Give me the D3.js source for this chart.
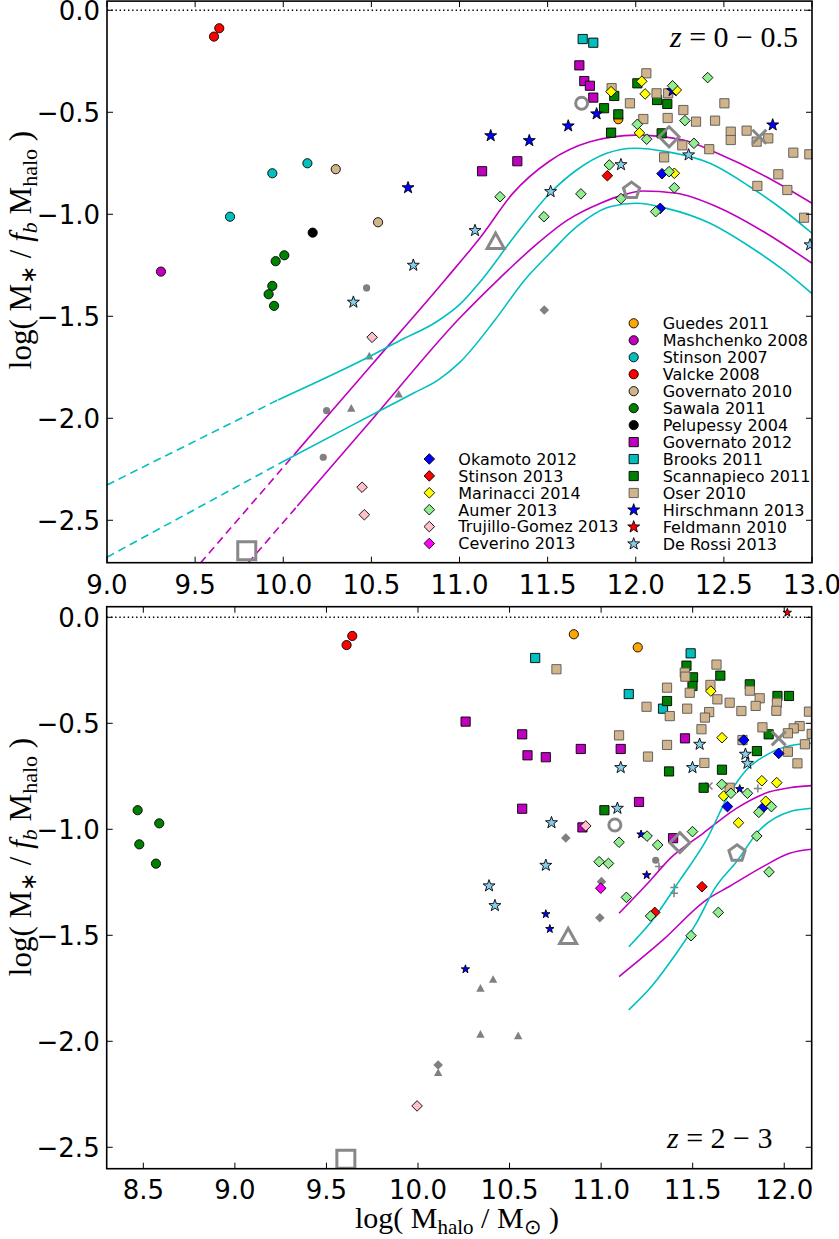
<!DOCTYPE html>
<html><head><meta charset="utf-8">
<script src="https://cdn.jsdelivr.net/npm/d3@7"></script>
<style>body{margin:0;background:#fff}svg{display:block}</style>
</head><body>
<svg id="chart" width="839" height="1239"></svg>
<script>
// ---------------- DATA ----------------
const xTicksTop = [9.0, 9.5, 10.0, 10.5, 11.0, 11.5, 12.0, 12.5, 13.0];
const xTicksBot = [8.5, 9.0, 9.5, 10.0, 10.5, 11.0, 11.5, 12.0];
const yTicks = [0.0, -0.5, -1.0, -1.5, -2.0, -2.5];
const panelLabels = ["z = 0 \u2212 0.5", "z = 2 \u2212 3"];

// z = 0-0.5 panel
const guedes_z0 = [[11.901,-0.534]];
const mashchenko_z0 = [[9.306,-1.281]];
const stinson07_z0 = [[9.698,-1.012],[9.938,-0.799],[10.137,-0.75]];
const valcke_z0 = [[9.607,-0.129],[9.637,-0.088]];
const governato10_z0 = [[10.298,-0.779],[10.538,-1.039]];
const sawala_z0 = [[10.006,-1.201],[9.957,-1.23],[9.938,-1.351],[9.917,-1.392],[9.948,-1.449]];
const pelupessy_z0 = [[10.167,-1.09]];
const governato12_z0 = [[11.680,-0.27],[11.708,-0.347],[11.74,-0.37],[11.759,-0.428],[11.328,-0.74],[11.128,-0.789]];
const brooks_z0 = [[11.699,-0.141],[11.759,-0.159]];
const scannapieco_z0 = [[12.009,-0.358],[11.878,-0.42],[11.82,-0.48],[11.901,-0.51],[11.86,-0.6],[12.121,-0.44],[12.179,-0.459],[12.147,-0.603]];
const oser_z0 = [[12.06,-0.309],[11.863,-0.382],[12.118,-0.407],[12.184,-0.407],[11.967,-0.456],[12.27,-0.489],[12.503,-0.456],[12.043,-0.533],[12.181,-0.528],[12.342,-0.546],[12.45,-0.541],[12.539,-0.595],[12.539,-0.636],[12.629,-0.59],[12.752,-0.628],[12.686,-0.644],[12.264,-0.662],[12.417,-0.681],[12.161,-0.721],[12.894,-0.698],[12.985,-0.706],[12.809,-0.804],[12.69,-0.861],[12.86,-0.881],[12.955,-1.017]];
const hirschmann_z0 = [[10.708,-0.87],[11.778,-0.508],[11.617,-0.567],[11.177,-0.615],[11.396,-0.639],[12.777,-0.562],[12.209,-0.394]];
const feldmann_z0 = [];
const derossi_z0 = [[10.738,-1.25],[10.398,-1.431],[11.916,-0.757],[12.3,-0.709],[11.517,-0.889],[11.088,-1.08],[12.989,-1.15]];
const okamoto_z0 = [[12.149,-0.801],[12.139,-0.971]];
const stinson13_z0 = [[11.839,-0.811]];
const marinacci_z0 = [[12.034,-0.348],[11.86,-0.399],[12.053,-0.41],[12.23,-0.391],[12.021,-0.601],[12.219,-0.799]];
const aumer_z0 = [[12.408,-0.33],[12.209,-0.37],[12.279,-0.541],[12.009,-0.559],[12.062,-0.632],[12.33,-0.652],[11.85,-0.758],[12.189,-0.791],[12.219,-0.87],[11.689,-0.9],[11.916,-0.923],[12.113,-0.987],[11.23,-0.914],[11.479,-1.012]];
const trujillo_z0 = [[10.504,-1.603],[10.447,-2.338],[10.46,-2.473]];
const ceverino_z0 = [];
const grayCircle_z0 = [[10.473,-1.361],[10.246,-1.963],[10.227,-2.191]];
const grayTriangle_z0 = [[10.488,-1.695],[10.655,-1.882],[10.386,-1.951]];
const grayDiamond_z0 = [[11.481,-1.469]];
const grayPlus_z0 = [];
const grayCross_z0 = [];
const bigCircle_z0 = [[11.693,-0.456]];
const bigDiamond_z0 = [[12.189,-0.62]];
const bigPentagon_z0 = [[11.976,-0.884]];
const bigTriangle_z0 = [[11.205,-1.134]];
const bigX_z0 = [[12.701,-0.62]];
const bigSquare_z0 = [[9.793,-2.649]];
// model curves z = 0-0.5
const magentaHiDash_z0 = [[9.53,-2.71],[10.09,-2.15]];
const magentaHi_z0 = [[10.09,-2.15],[10.5,-1.74],[10.92,-1.32],[11.13,-1.10],[11.3,-0.90],[11.51,-0.74],[11.74,-0.645],[12.0,-0.612],[12.27,-0.636],[12.46,-0.70],[12.74,-0.816],[13.0,-0.946]];
const magentaLoDash_z0 = [[9.80,-2.71],[10.08,-2.43]];
const magentaLo_z0 = [[10.08,-2.43],[10.5,-2.01],[11.0,-1.51],[11.22,-1.32],[11.42,-1.16],[11.61,-1.03],[11.8,-0.946],[11.93,-0.905],[12.04,-0.886],[12.23,-0.897],[12.46,-0.963],[12.74,-1.093],[13.0,-1.24]];
const cyanHiDash_z0 = [[9.0,-2.327],[9.97,-1.91]];
const cyanHi_z0 = [[9.97,-1.91],[10.47,-1.706],[10.66,-1.62],[10.87,-1.527],[11.0,-1.443],[11.126,-1.322],[11.325,-1.093],[11.513,-0.897],[11.665,-0.783],[11.835,-0.701],[11.996,-0.676],[12.175,-0.693],[12.421,-0.75],[12.648,-0.865],[12.837,-0.979],[13.0,-1.093]];
const cyanLoDash_z0 = [[9.0,-2.681],[9.997,-2.213]];
const cyanLo_z0 = [[9.997,-2.213],[10.4,-2.03],[10.738,-1.877],[10.88,-1.812],[11.003,-1.725],[11.2,-1.52],[11.37,-1.322],[11.513,-1.191],[11.665,-1.061],[11.854,-0.963],[12.005,-0.946],[12.175,-0.971],[12.421,-1.044],[12.648,-1.159],[12.837,-1.273],[13.0,-1.389]];

// z = 2-3 panel
const guedes_z2 = [[10.851,-0.08],[11.2,-0.142]];
const mashchenko_z2 = [];
const stinson07_z2 = [];
const valcke_z2 = [[9.641,-0.088],[9.61,-0.131]];
const governato10_z2 = [];
const sawala_z2 = [[8.469,-0.91],[8.587,-0.972],[8.478,-1.071],[8.569,-1.162]];
const pelupessy_z2 = [];
const governato12_z2 = [[10.26,-0.492],[10.569,-0.552],[10.598,-0.651],[10.698,-0.66],[10.889,-0.621],[11.107,-0.621],[11.458,-0.571],[10.569,-0.903],[11.207,-0.871],[10.898,-0.991],[11.393,-1.042]];
const brooks_z2 = [[10.64,-0.192],[11.489,-0.17],[11.151,-0.362],[11.338,-0.431]];
const scannapieco_z2 = [[11.466,-0.228],[11.502,-0.283],[11.651,-0.275],[11.499,-0.324],[11.36,-0.395],[11.812,-0.316],[11.963,-0.371],[12.026,-0.371],[11.915,-0.552],[11.851,-0.631],[11.66,-0.719],[11.371,-0.727],[11.56,-0.804],[11.018,-0.91]];
const oser_z2 = [[10.756,-0.245],[11.63,-0.223],[11.457,-0.261],[11.46,-0.28],[11.597,-0.319],[11.36,-0.332],[11.484,-0.356],[11.812,-0.346],[11.635,-0.387],[11.866,-0.382],[11.702,-0.403],[11.96,-0.403],[11.844,-0.418],[11.248,-0.422],[11.47,-0.431],[11.59,-0.447],[11.766,-0.442],[11.957,-0.441],[12.135,-0.445],[11.375,-0.466],[11.567,-0.473],[11.881,-0.519],[11.548,-0.528],[12.084,-0.513],[12.052,-0.524],[12.02,-0.547],[11.098,-0.557],[11.36,-0.602],[12.113,-0.599],[11.256,-0.657],[11.564,-0.687],[12.02,-0.634],[12.072,-0.689],[11.772,-0.579],[11.702,-0.804],[12.15,-0.55]];
const hirschmann_z2 = [[11.757,-0.81],[11.218,-1.024],[11.249,-1.216],[10.698,-1.4],[10.72,-1.47],[10.259,-1.66]];
const feldmann_z2 = [[12.017,0.022]];
const derossi_z2 = [[11.538,-0.599],[11.788,-0.646],[11.799,-0.689],[11.499,-0.709],[11.107,-0.709],[11.089,-0.901],[10.729,-0.969],[10.698,-1.17],[10.388,-1.267],[10.42,-1.36]];
const okamoto_z2 = [[11.779,-0.579],[11.97,-0.642],[11.69,-0.893],[11.884,-0.898]];
const stinson13_z2 = [[11.293,-1.392],[11.551,-1.271]];
const marinacci_z2 = [[11.599,-0.348],[11.66,-0.568],[11.878,-0.771],[11.959,-0.78],[11.669,-0.843],[11.899,-0.868],[11.75,-0.969]];
const aumer_z2 = [[11.659,-0.788],[11.709,-0.83],[11.799,-0.83],[11.93,-0.893],[11.861,-0.92],[11.499,-1.011],[11.251,-1.032],[11.309,-1.074],[11.098,-1.061],[11.85,-1.032],[11.917,-1.201],[10.989,-1.153],[11.04,-1.161],[11.27,-1.409],[11.138,-1.321],[11.64,-1.392],[11.491,-1.502]];
const trujillo_z2 = [[10.916,-0.984],[9.995,-2.305]];
const ceverino_z2 = [[10.998,-1.278]];
const grayCircle_z2 = [[11.298,-1.146]];
const grayTriangle_z2 = [[10.41,-1.708],[10.341,-1.75],[10.341,-1.967],[10.547,-1.974],[10.11,-2.148]];
const grayDiamond_z2 = [[10.807,-1.041],[11.002,-1.247],[10.993,-1.417],[10.11,-2.112]];
const grayPlus_z2 = [[11.316,-1.176],[11.856,-0.807],[11.398,-1.302],[11.40,-1.275]];
const grayCross_z2 = [[11.589,-0.796]];
const bigCircle_z2 = [[11.075,-0.98]];
const bigDiamond_z2 = [[11.43,-1.063]];
const bigPentagon_z2 = [[11.742,-1.113]];
const bigTriangle_z2 = [[10.82,-1.507]];
const bigX_z2 = [[11.97,-0.571]];
const bigSquare_z2 = [[9.606,-2.557]];
// model curves z = 2-3
const magentaHi_z2 = [[11.098,-1.396],[11.27,-1.24],[11.38,-1.135],[11.557,-1.019],[11.739,-0.901],[11.92,-0.823],[12.029,-0.804],[12.15,-0.794]];
const magentaLo_z2 = [[11.098,-1.695],[11.338,-1.522],[11.575,-1.333],[11.70,-1.27],[11.884,-1.176],[12.029,-1.113],[12.15,-1.094]];
const cyanHi_z2 = [[11.151,-1.554],[11.27,-1.44],[11.43,-1.24],[11.575,-1.05],[11.702,-0.83],[11.793,-0.72],[11.902,-0.65],[12.029,-0.606],[12.15,-0.594]];
const cyanLo_z2 = [[11.151,-1.852],[11.275,-1.742],[11.411,-1.585],[11.52,-1.443],[11.62,-1.28],[11.739,-1.153],[11.866,-1.003],[12.029,-0.917],[12.15,-0.901]];

const legendLeft = ["Okamoto 2012","Stinson 2013","Marinacci 2014","Aumer 2013","Trujillo-Gomez 2013","Ceverino 2013"];
const legendRight = ["Guedes 2011","Mashchenko 2008","Stinson 2007","Valcke 2008","Governato 2010","Sawala 2011","Pelupessy 2004","Governato 2012","Brooks 2011","Scannapieco 2011","Oser 2010","Hirschmann 2013","Feldmann 2010","De Rossi 2013"];

// ---------------- STYLE ----------------
const M = "#BF00BF", C = "#00BFBF";
const seriesStyle = {
  "Guedes 2011":{shape:"o",fill:"#FFA500"},
  "Mashchenko 2008":{shape:"o",fill:M},
  "Stinson 2007":{shape:"o",fill:C},
  "Valcke 2008":{shape:"o",fill:"#FF0000"},
  "Governato 2010":{shape:"o",fill:"#D2B48C"},
  "Sawala 2011":{shape:"o",fill:"#008000"},
  "Pelupessy 2004":{shape:"o",fill:"#000000"},
  "Governato 2012":{shape:"s",fill:M},
  "Brooks 2011":{shape:"s",fill:C},
  "Scannapieco 2011":{shape:"s",fill:"#008000"},
  "Oser 2010":{shape:"s",fill:"#D2B48C",stroke:"#555"},
  "Hirschmann 2013":{shape:"*",fill:"#0000FF"},
  "Feldmann 2010":{shape:"*",fill:"#FF0000"},
  "De Rossi 2013":{shape:"*",fill:"#87CEEB"},
  "Okamoto 2012":{shape:"D",fill:"#0000FF"},
  "Stinson 2013":{shape:"D",fill:"#FF0000"},
  "Marinacci 2014":{shape:"D",fill:"#FFFF00"},
  "Aumer 2013":{shape:"D",fill:"#90EE90"},
  "Trujillo-Gomez 2013":{shape:"D",fill:"#FFC0CB"},
  "Ceverino 2013":{shape:"D",fill:"#FF00FF"}
};
const markerSize = {o:4.6, s:4.6, D:5.3, "*":6.3};

function shapePath(shape, s){
  const p = d3.path();
  if(shape==="o"){ p.moveTo(s,0); p.arc(0,0,s,0,2*Math.PI); p.closePath(); }
  else if(shape==="s"){ p.rect(-s,-s,2*s,2*s); }
  else if(shape==="D"){ p.moveTo(0,-s); p.lineTo(s,0); p.lineTo(0,s); p.lineTo(-s,0); p.closePath(); }
  else if(shape==="*"){
    for(let i=0;i<10;i++){ const r = i%2? s*0.4 : s; const a = -Math.PI/2 + i*Math.PI/5;
      const px=r*Math.cos(a), py=r*Math.sin(a); if(i===0) p.moveTo(px,py); else p.lineTo(px,py);} p.closePath(); }
  else if(shape==="^"){ p.moveTo(0,-s); p.lineTo(s,s*0.8); p.lineTo(-s,s*0.8); p.closePath(); }
  else if(shape==="p"){
    for(let i=0;i<5;i++){ const a=-Math.PI/2+i*2*Math.PI/5; const px=s*Math.cos(a), py=s*Math.sin(a); if(i===0)p.moveTo(px,py); else p.lineTo(px,py);} p.closePath(); }
  else if(shape==="x"){ p.moveTo(-s,-s); p.lineTo(s,s); p.moveTo(-s,s); p.lineTo(s,-s); }
  else if(shape==="+"){ p.moveTo(-s,0); p.lineTo(s,0); p.moveTo(0,-s); p.lineTo(0,s); }
  return p.toString();
}

const svg = d3.select("#chart");
svg.append("rect").attr("width",839).attr("height",1239).attr("fill","#fff");

const panels = [
  {id:"z0", xd:[9.0,13.0], yd:[-2.708,0.045], left:107, right:812, top:1.1, bottom:562.7, xticks:xTicksTop, label:panelLabels[0], labelX:670, labelY:47, tickLabelY:594, ylabelY:250,
   data:{"Guedes 2011":guedes_z0,"Mashchenko 2008":mashchenko_z0,"Stinson 2007":stinson07_z0,"Valcke 2008":valcke_z0,"Governato 2010":governato10_z0,"Sawala 2011":sawala_z0,"Pelupessy 2004":pelupessy_z0,"Governato 2012":governato12_z0,"Brooks 2011":brooks_z0,"Scannapieco 2011":scannapieco_z0,"Oser 2010":oser_z0,"Hirschmann 2013":hirschmann_z0,"Feldmann 2010":feldmann_z0,"De Rossi 2013":derossi_z0,"Okamoto 2012":okamoto_z0,"Stinson 2013":stinson13_z0,"Marinacci 2014":marinacci_z0,"Aumer 2013":aumer_z0,"Trujillo-Gomez 2013":trujillo_z0,"Ceverino 2013":ceverino_z0},
   gray:{circle:grayCircle_z0,tri:grayTriangle_z0,diam:grayDiamond_z0,plus:grayPlus_z0,cross:grayCross_z0},
   big:{o:bigCircle_z0,D:bigDiamond_z0,p:bigPentagon_z0,"^":bigTriangle_z0,x:bigX_z0,s:bigSquare_z0},
   lines:[{d:magentaHiDash_z0,c:M,dash:true},{d:magentaLoDash_z0,c:M,dash:true},{d:cyanHiDash_z0,c:C,dash:true},{d:cyanLoDash_z0,c:C,dash:true},
          {d:magentaHi_z0,c:M},{d:magentaLo_z0,c:M},{d:cyanHi_z0,c:C},{d:cyanLo_z0,c:C}], starSmall:false},
  {id:"z2", xd:[8.3,12.15], yd:[-2.601,0.05], left:106.7, right:811.7, top:606.7, bottom:1168.7, xticks:xTicksBot, label:panelLabels[1], labelX:667, labelY:1148, tickLabelY:1199, ylabelY:857,
   data:{"Guedes 2011":guedes_z2,"Mashchenko 2008":mashchenko_z2,"Stinson 2007":stinson07_z2,"Valcke 2008":valcke_z2,"Governato 2010":governato10_z2,"Sawala 2011":sawala_z2,"Pelupessy 2004":pelupessy_z2,"Governato 2012":governato12_z2,"Brooks 2011":brooks_z2,"Scannapieco 2011":scannapieco_z2,"Oser 2010":oser_z2,"Hirschmann 2013":hirschmann_z2,"Feldmann 2010":feldmann_z2,"De Rossi 2013":derossi_z2,"Okamoto 2012":okamoto_z2,"Stinson 2013":stinson13_z2,"Marinacci 2014":marinacci_z2,"Aumer 2013":aumer_z2,"Trujillo-Gomez 2013":trujillo_z2,"Ceverino 2013":ceverino_z2},
   gray:{circle:grayCircle_z2,tri:grayTriangle_z2,diam:grayDiamond_z2,plus:grayPlus_z2,cross:grayCross_z2},
   big:{o:bigCircle_z2,D:bigDiamond_z2,p:bigPentagon_z2,"^":bigTriangle_z2,x:bigX_z2,s:bigSquare_z2},
   lines:[{d:magentaHi_z2,c:M},{d:magentaLo_z2,c:M},{d:cyanHi_z2,c:C},{d:cyanLo_z2,c:C}], starSmall:true}
];

const drawOrder = ["o","s","*","D"];
const tickFont = "'DejaVu Sans', sans-serif";
const mathFont = "'Liberation Serif', serif";

panels.forEach((P,pi)=>{
  const x = d3.scaleLinear().domain(P.xd).range([P.left,P.right]);
  const y = d3.scaleLinear().domain(P.yd).range([P.bottom,P.top]);
  const defs = svg.append("defs");
  defs.append("clipPath").attr("id","clip"+P.id).append("rect")
    .attr("x",P.left).attr("y",P.top).attr("width",P.right-P.left).attr("height",P.bottom-P.top);
  const g = svg.append("g");
  const plot = g.append("g").attr("clip-path",`url(#clip${P.id})`);

  // zero reference line
  plot.append("line").attr("x1",P.left).attr("x2",P.right).attr("y1",y(0)).attr("y2",y(0))
    .attr("stroke","#000").attr("stroke-width",1.4).attr("stroke-dasharray","1.4,2.8");

  // gray small markers
  const grayShapes = [["circle","o",3.6],["tri","^",4.2],["diam","D",4.8],["plus","+",4],["cross","x",3.5]];
  grayShapes.forEach(([k,sh,s])=>{
    const line = sh==="+"||sh==="x";
    plot.selectAll(null).data(P.gray[k]).enter().append("path")
      .attr("d",shapePath(sh,s)).attr("transform",d=>`translate(${x(d[0])},${y(d[1])})`)
      .attr("fill",line?"none":"#808080").attr("stroke",line?"#808080":"none").attr("stroke-width",1.5);
  });

  // model curves
  const lineGen = d3.line().x(d=>x(d[0])).y(d=>y(d[1])).curve(d3.curveMonotoneX);
  P.lines.forEach(L=>{
    plot.append("path").attr("d",lineGen(L.d)).attr("fill","none").attr("stroke",L.c)
      .attr("stroke-width",1.6).attr("stroke-dasharray",L.dash?"8,5":null);
  });

  // colored markers
  drawOrder.forEach(sh=>{
    Object.keys(P.data).forEach(name=>{
      const st = seriesStyle[name]; if(st.shape!==sh) return;
      let s = markerSize[sh];
      if(sh==="*" && P.starSmall && name==="Hirschmann 2013") s = 4.4;
      if(name==="Feldmann 2010" && P.starSmall) s = 4.4;
      plot.selectAll(null).data(P.data[name]).enter().append("path")
        .attr("d",shapePath(sh,s)).attr("transform",d=>`translate(${x(d[0])},${y(d[1])})`)
        .attr("fill",st.fill).attr("stroke",st.stroke||"#000").attr("stroke-width",0.9);
    });
  });

  // big open gray markers
  const bigSizes = {o:6,D:10,p:8.5,"^":8.5,x:7,s:9};
  Object.keys(P.big).forEach(sh=>{
    plot.selectAll(null).data(P.big[sh]).enter().append("path")
      .attr("d",shapePath(sh,bigSizes[sh])).attr("transform",d=>`translate(${x(d[0])},${y(d[1])})`)
      .attr("fill","none").attr("stroke","#888").attr("stroke-width",3).attr("stroke-linejoin","miter");
  });

  // frame
  g.append("rect").attr("x",P.left).attr("y",P.top).attr("width",P.right-P.left).attr("height",P.bottom-P.top)
    .attr("fill","none").attr("stroke","#000").attr("stroke-width",1.6);

  // ticks
  const tl = 6;
  P.xticks.forEach(t=>{
    g.append("line").attr("x1",x(t)).attr("x2",x(t)).attr("y1",P.bottom).attr("y2",P.bottom-tl).attr("stroke","#000");
    g.append("line").attr("x1",x(t)).attr("x2",x(t)).attr("y1",P.top).attr("y2",P.top+tl).attr("stroke","#000");
  });
  yTicks.forEach(t=>{
    g.append("line").attr("x1",P.left).attr("x2",P.left+tl).attr("y1",y(t)).attr("y2",y(t)).attr("stroke","#000");
    g.append("line").attr("x1",P.right).attr("x2",P.right-tl).attr("y1",y(t)).attr("y2",y(t)).attr("stroke","#000");
  });
  const fmt = d3.format(".1f");
  const fmtLabel = v => fmt(v).replace("-","\u2212");
  g.selectAll(null).data(P.xticks).enter().append("text")
    .attr("x",d=>x(d)).attr("y",P.tickLabelY).attr("text-anchor","middle")
    .attr("font-family",tickFont).attr("font-size",26).text(fmtLabel);
  g.selectAll(null).data(yTicks).enter().append("text")
    .attr("x",P.left-7).attr("y",d=>y(d)+9.5).attr("text-anchor","end")
    .attr("font-family",tickFont).attr("font-size",26).text(fmtLabel);

  // panel label
  const lt = g.append("text").attr("x",P.labelX).attr("y",P.labelY)
    .attr("font-family",mathFont).attr("font-size",30);
  lt.append("tspan").attr("font-style","italic").text(P.label.slice(0,1));
  lt.append("tspan").text(P.label.slice(1));

  // y label
  const yl = g.append("text").attr("transform",`translate(31,${P.ylabelY}) rotate(-90)`)
    .attr("text-anchor","middle").attr("font-family",mathFont).attr("font-size",31);
  yl.append("tspan").text("log( M");
  yl.append("tspan").attr("font-size",22).attr("dy",5).text("\u2217");
  yl.append("tspan").attr("dy",-5).text(" / ");
  yl.append("tspan").attr("font-style","italic").text("f");
  yl.append("tspan").attr("font-style","italic").attr("font-size",22).attr("dy",6).text("b");
  yl.append("tspan").attr("dy",-6).text(" M");
  yl.append("tspan").attr("font-size",22).attr("dy",6).text("halo");
  yl.append("tspan").attr("dy",-6).text(" )");
});

// x label
const xl = svg.append("text").attr("x",457).attr("y",1228).attr("text-anchor","middle")
  .attr("font-family",mathFont).attr("font-size",30);
xl.append("tspan").text("log( M");
xl.append("tspan").attr("font-size",21).attr("dy",6).text("halo");
xl.append("tspan").attr("dy",-6).text(" / M");
xl.append("tspan").attr("font-size",21).attr("dy",6).text("\u2299");
xl.append("tspan").attr("dy",-6).text(" )");

// legends
const lg = svg.append("g");
function legendCol(names, mx, tx, y0, dy){
  names.forEach((n,i)=>{
    const st = seriesStyle[n];
    const yy = y0 + i*dy;
    lg.append("path").attr("d",shapePath(st.shape,markerSize[st.shape])).attr("transform",`translate(${mx},${yy})`)
      .attr("fill",st.fill).attr("stroke",st.stroke||"#000").attr("stroke-width",0.9);
    lg.append("text").attr("x",tx).attr("y",yy+5.8).attr("font-family",tickFont).attr("font-size",16).text(n);
  });
}
legendCol(legendLeft, 429.3, 458.3, 459, 16.9);
legendCol(legendRight, 633.7, 662.7, 323.3, 16.97);
</script>
</body></html>
